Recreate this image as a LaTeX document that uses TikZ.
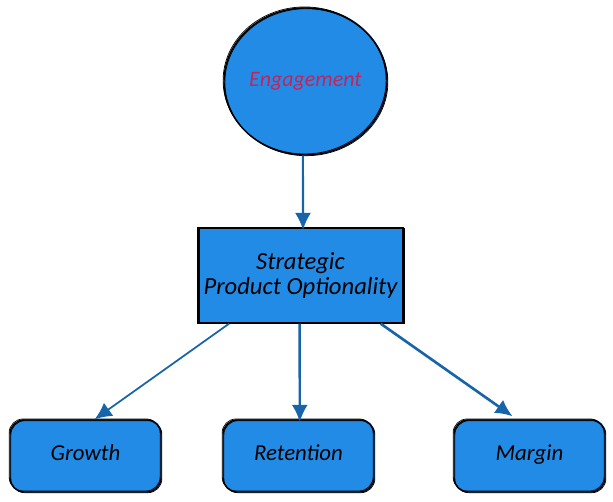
\documentclass[tikz,border=0pt]{standalone}
\usepackage{fontspec}
\setmainfont{Carlito}
\usetikzlibrary{arrows.meta, shapes.geometric}
\definecolor{boxblue}{HTML}{228BE6}
\definecolor{linkblue}{HTML}{1864AB}
\definecolor{textred}{HTML}{C2255C}
\tikzset{
	rough/.style={draw=black, line width=0.8pt, font=\fontsize{14}{14.5}\selectfont\itshape,
		preaction={fill=boxblue, transform canvas={shift={(0.4pt,0.5pt)}}},
		fill=boxblue,
		postaction={draw=black, line width=0.4pt, transform canvas={shift={(-0.5pt,0.6pt)}}},
		postaction={draw=black, line width=0.4pt, transform canvas={shift={(0.5pt,-0.4pt)}}}},
	roughbox/.style={rough, minimum width=3.02cm, minimum height=1.44cm, rounded corners=8pt,
		font=\fontsize{13}{15}\selectfont\itshape, text height=1.6ex, text depth=0.5ex},
	link/.style={draw=linkblue, line width=1.2pt, -{Latex[length=3.4mm, width=3.2mm]}}
}
\begin{document}
\begin{tikzpicture}
	\useasboundingbox (0,0) rectangle (12.26,10.04);

	\node [rough, ellipse, minimum width=3.26cm, minimum height=2.94cm, inner sep=0pt, text=textred, font=\fontsize{12.5}{15}\selectfont\itshape] (engagement) at (6.11,8.41) {Engagement};
	\node [rough, minimum width=4.1cm, minimum height=1.9cm, inner sep=0pt, align=center] (strategic) at (6.01,4.53) {Strategic\\Product Optionality};

	\node [roughbox] (growth) at (1.71,0.92) {Growth};
	\node [roughbox] (retention) at (5.97,0.92) {Retention};
	\node [roughbox] (margin) at (10.59,0.92) {Margin};

	\draw [link, shorten >=-1.5pt] (engagement.-92) -- (strategic.87);
	\draw [link, line width=1pt] (strategic.214) -- (growth.76);
	\draw [link, line width=1.4pt, shorten >=-1.5pt] (strategic.-91) -- (retention.88);
	\draw [link, line width=1.5pt, shorten >=3pt] (strategic.-31) -- (margin.109);
\end{tikzpicture}
\end{document}
